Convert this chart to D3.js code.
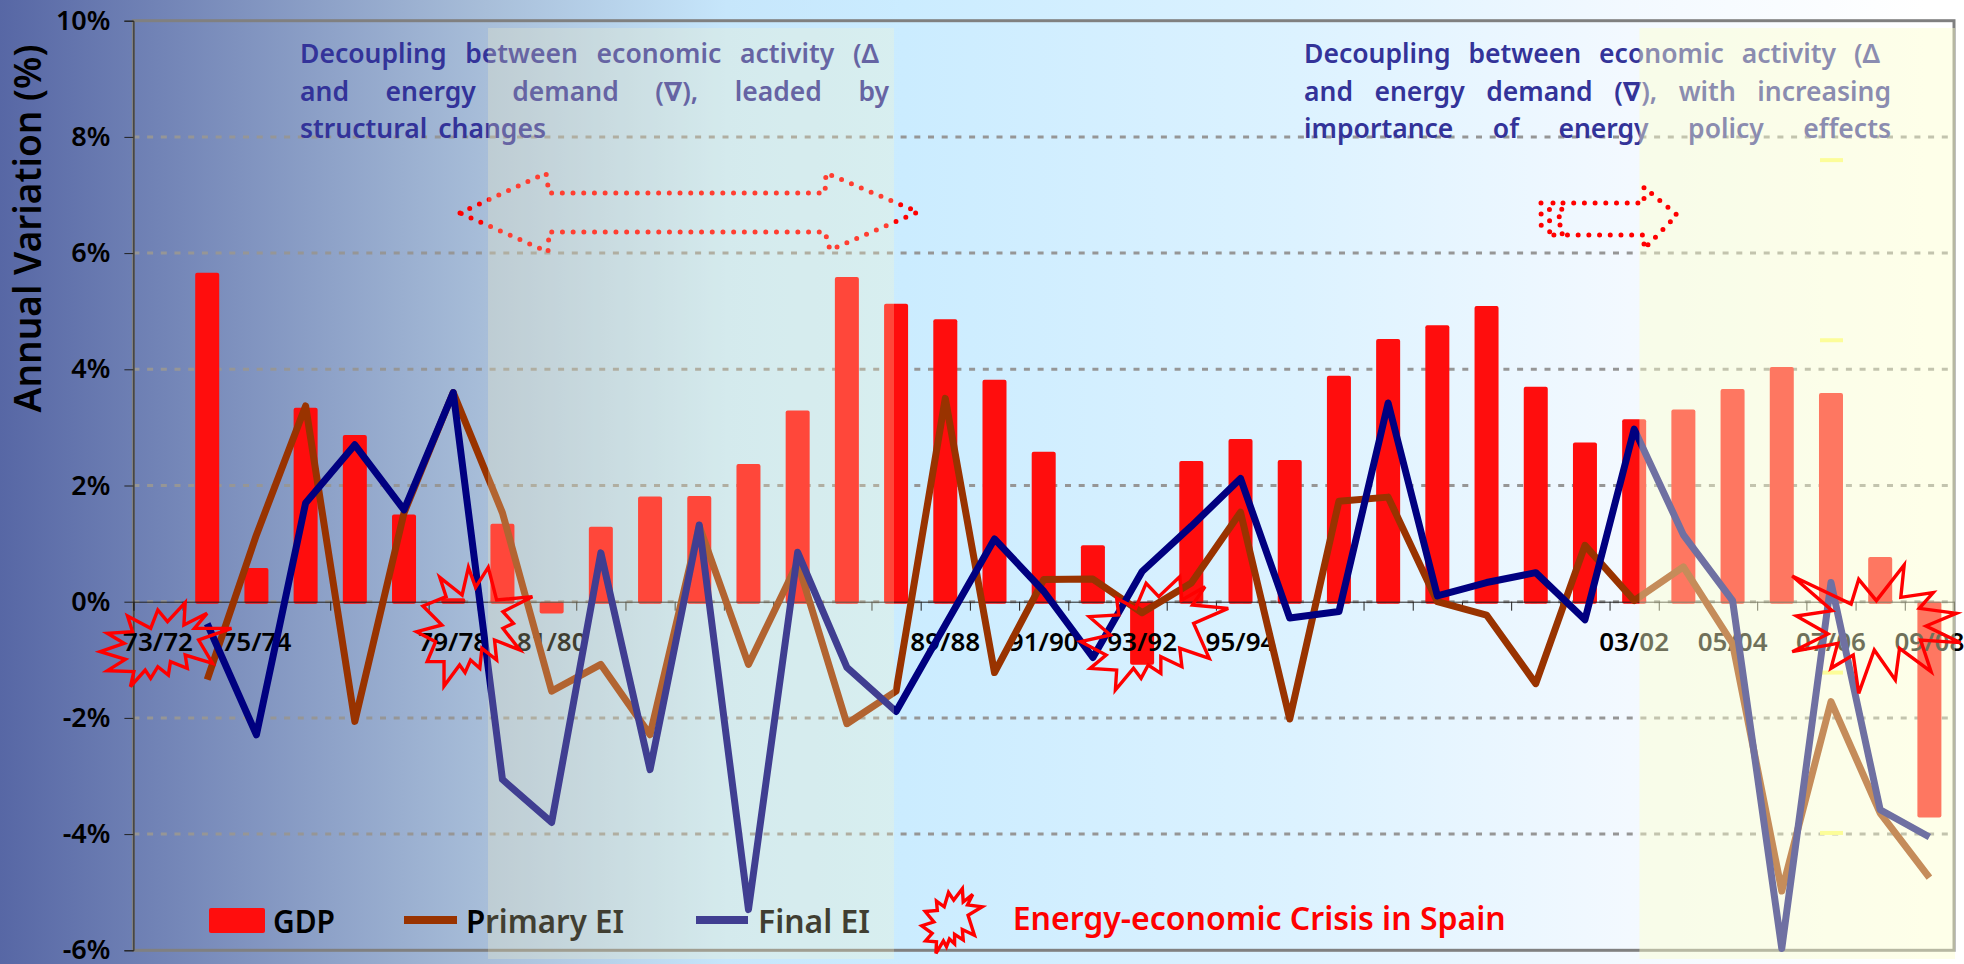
<!DOCTYPE html>
<html>
<head>
<meta charset="utf-8">
<script src="https://cdnjs.cloudflare.com/ajax/libs/d3/7.8.5/d3.min.js"></script>
<style>
  html, body { margin: 0; padding: 0; background: #fff; overflow: hidden; }
  text { font-family: "Noto Sans", "DejaVu Sans", sans-serif; }
</style>
</head>
<body>
<svg id="chart" width="1964" height="964"></svg>
<script>
const categories = ["73/72","74/73","75/74","76/75","77/76","78/77","79/78","80/79","81/80","82/81","83/82","84/83","85/84","86/85","87/86","88/87","89/88","90/89","91/90","92/91","93/92","94/93","95/94","96/95","97/96","98/97","99/98","00/99","01/00","02/01","03/02","04/03","05/04","06/05","07/06","08/07","09/08"];
const gdp = [null,5.66,0.58,3.34,2.87,1.5,0.06,1.34,-0.17,1.29,1.81,1.82,2.37,3.29,5.59,5.13,4.86,3.82,2.58,0.97,-1.05,2.42,2.8,2.44,3.89,4.52,4.76,5.09,3.7,2.74,3.14,3.31,3.66,4.04,3.59,0.77,-3.68];
const primaryEI = [null,-1.34,1.15,3.37,-2.06,1.53,3.6,1.53,-1.54,-1.08,-2.29,1.3,-1.08,0.67,-2.1,-1.54,3.5,-1.22,0.38,0.39,-0.19,0.32,1.54,-2.02,1.73,1.8,0.0,-0.23,-1.41,0.97,0.02,0.6,-0.72,-4.98,-1.72,-3.64,-4.75];
const finalEI = [null,-0.38,-2.29,1.7,2.7,1.58,3.6,-3.06,-3.8,0.84,-2.89,1.32,-5.3,0.85,-1.13,-1.89,-0.4,1.08,0.18,-0.96,0.52,1.3,2.12,-0.28,-0.17,3.42,0.1,0.33,0.5,-0.31,2.97,1.15,0.02,-5.97,0.33,-3.58,-4.05];
const yTicks = [-6,-4,-2,0,2,4,6,8,10];
const xLabels = ["73/72","75/74","79/78","81/80","89/88","91/90","93/92","95/94","03/02","05/04","07/06","09/08"];
const crisisYears = ["73/72","79/78","93/92","07/06"];
const yellowMarks = [7.6,4.5,-1.22,-3.98];

const margin = {left: 133.4, right: 1954, top: 20.7, bottom: 950.3};
const svg = d3.select("#chart");

// background
const defs = svg.append("defs");
const grad = defs.append("linearGradient").attr("id", "bg");
[[0,"#5767a5"],[0.248,"#a8bed9"],[0.37,"#c6e6fb"],[0.46,"#cbecff"],[0.66,"#dcf2ff"],[0.83,"#f3f9ff"],[0.98,"#ffffff"]]
  .forEach(s => grad.append("stop").attr("offset", s[0]).attr("stop-color", s[1]));
svg.append("rect").attr("width", 1964).attr("height", 964).attr("fill", "url(#bg)");

const x = d3.scaleBand().domain(categories).range([margin.left, margin.right]);
const xEdge = d3.scaleLinear().domain([0, categories.length]).range([margin.left, margin.right]);
const y = d3.scaleLinear().domain([-6, 10]).range([margin.bottom, margin.top]);

// gridlines and plot frame
svg.append("g").selectAll("line").data(yTicks.filter(d => d > -6 && d < 10)).enter().append("line")
  .attr("x1", margin.left).attr("x2", margin.right)
  .attr("y1", d => y(d)).attr("y2", d => y(d))
  .attr("stroke", "#969696").attr("stroke-width", 3).attr("stroke-dasharray", "6 7.7");
svg.append("rect")
  .attr("x", margin.left).attr("y", margin.top)
  .attr("width", margin.right - margin.left).attr("height", margin.bottom - margin.top)
  .attr("fill", "none").attr("stroke", "#808080").attr("stroke-width", 3);

// GDP bars
const barW = 24;
svg.append("g").selectAll("rect").data(categories.map((c, i) => ({c, v: gdp[i]})).filter(d => d.v !== null)).enter().append("rect")
  .attr("x", d => x(d.c) + x.bandwidth() / 2 - barW / 2)
  .attr("y", d => y(Math.max(d.v, 0)))
  .attr("width", barW)
  .attr("height", d => Math.abs(y(d.v) - y(0)) + 2)
  .attr("rx", 2)
  .attr("fill", "#ff0d0d");

// axes
const yAxis = svg.append("g").attr("transform", `translate(${margin.left},0)`)
  .call(d3.axisLeft(y).tickValues(yTicks).tickFormat(d => d + "%").tickSize(9).tickPadding(14));
yAxis.selectAll("text").attr("font-size", 27).attr("font-weight", 600).attr("fill", "#000");
yAxis.selectAll("line,path").attr("stroke", "#222");

const xAxis = svg.append("g").attr("transform", `translate(0,${y(0)})`)
  .call(d3.axisBottom(xEdge).tickValues(d3.range(categories.length + 1)).tickFormat("").tickSize(9));
xAxis.selectAll("line,path").attr("stroke", "#222");

const xLab = svg.append("g").attr("transform", `translate(0,${y(0)})`)
  .call(d3.axisBottom(x).tickValues(xLabels).tickSize(0).tickPadding(31));
xLab.select("path").remove();
xLab.selectAll("text").attr("font-size", 26).attr("font-weight", 600).attr("fill", "#000");

// yellow leftovers at 07/06
svg.append("g").selectAll("rect").data(yellowMarks).enter().append("rect")
  .attr("x", x("07/06") + x.bandwidth() / 2 - 11).attr("y", d => y(d) - 2)
  .attr("width", 23).attr("height", 4).attr("fill", "#fcfc70");

// lines
const lineGen = d3.line().defined(d => d.v !== null)
  .x(d => x(d.c) + x.bandwidth() / 2).y(d => y(d.v));
const seriesLines = [[primaryEI, "#993300"], [finalEI, "#000080"]];
seriesLines.forEach(s => {
  svg.append("path")
    .datum(categories.map((c, i) => ({c, v: s[0][i]})))
    .attr("d", lineGen)
    .attr("fill", "none").attr("stroke", s[1]).attr("stroke-width", 7).attr("stroke-linejoin", "round");
});

// y title
svg.append("text").attr("transform", "translate(41,228.5) rotate(-90)")
  .attr("text-anchor", "middle").attr("font-size", 37).attr("font-weight", 600).attr("fill", "#000")
  .text("Annual Variation (%)");

// annotation text, justified by stretching the spaces
function justified(txt, xStart, base, width) {
  const t = svg.append("text").attr("x", xStart).attr("y", base)
    .attr("font-size", 26.5).attr("font-weight", 600).attr("fill", "#333399").text(txt);
  const gaps = txt.split(" ").length - 1;
  const extra = (width - t.node().getComputedTextLength()) / gaps;
  t.style("word-spacing", extra + "px");
}
justified("Decoupling between economic activity (Δ", 300, 62.7, 579);
justified("and energy demand (∇), leaded by", 300, 100.7, 589);
justified("structural changes", 300, 138.3, 246);
justified("Decoupling between economic activity (Δ", 1304, 62.7, 576);
justified("and energy demand (∇), with increasing", 1304, 100.7, 587);
justified("importance of energy policy effects", 1304, 138.3, 587);

// legend
const legendY = 920;
svg.append("rect").attr("x", 209).attr("y", 908).attr("width", 56).attr("height", 25).attr("rx", 2).attr("fill", "#ff0d0d");
svg.append("line").attr("x1", 404).attr("x2", 457).attr("y1", legendY).attr("y2", legendY).attr("stroke", "#993300").attr("stroke-width", 8);
svg.append("line").attr("x1", 696).attr("x2", 748).attr("y1", legendY).attr("y2", legendY).attr("stroke", "#000080").attr("stroke-width", 8);
[["GDP", 273, 62], ["Primary EI", 466, 158], ["Final EI", 758, 112]].forEach(d => {
  svg.append("text").attr("x", d[1]).attr("y", 932.5)
    .attr("font-size", 32).attr("font-weight", 600).attr("fill", "#000")
    .attr("textLength", d[2]).attr("lengthAdjust", "spacingAndGlyphs").text(d[0]);
});

// dotted arrow 1, goes under the panels
function dotted(pts) {
  svg.append("path")
    .attr("d", d3.line()(pts))
    .attr("fill", "none").attr("stroke", "#ff0000").attr("stroke-width", 5)
    .attr("stroke-linecap", "round").attr("stroke-dasharray", "0 10.7");
}
dotted([[460,213],[546,173],[549,193],[825,193],[826,173],[918,212],[830,250],[825,232],[549,232],[548,252],[460,213]]);

// shaded period panels
const panels = [
  {x0: 488, x1: 894, fill: "rgb(255,248,195)", opacity: 0.25},
  {x0: 1639.4, x1: 1955, fill: "rgb(252,255,205)", opacity: 0.44}
];
svg.append("g").selectAll("rect").data(panels).enter().append("rect")
  .attr("x", d => d.x0).attr("y", 28)
  .attr("width", d => d.x1 - d.x0).attr("height", 931)
  .attr("fill", d => d.fill).attr("fill-opacity", d => d.opacity);

// arrow 2 sits on top of the panels
dotted([[1563,203],[1644,203],[1644,187],[1677,215],[1644,249],[1644,235],[1563,235]]);
dotted([[1541,203],[1550,210],[1541,214],[1550,221],[1541,225],[1550,232],[1541,235]]);
dotted([[1553,203],[1563,210],[1558,215],[1563,222],[1558,227],[1563,235],[1553,235]]);

// crisis stars, outlines traced in crop units
const starOutlines = {
  "73/72": [[303,408],[358,445],[375,390],[398,425],[440,368],[437,435],[492,400],[462,445],[550,445],[472,480],[505,550],[440,525],[445,565],[405,545],[400,585],[375,560],[358,595],[345,570],[310,620],[318,575],[255,572],[298,538],[238,515],[295,490],[255,460],[315,455]],
  "79/78": [[1160,262],[1130,322],[1113,262],[1098,345],[1045,292],[1060,350],[1005,378],[1050,435],[990,455],[1035,485],[1015,545],[1055,545],[1055,618],[1092,555],[1105,578],[1118,540],[1140,565],[1145,505],[1180,540],[1175,480],[1235,510],[1195,445],[1220,430],[1195,395],[1265,350],[1180,360]],
  "93/92": [[1020,410],[1090,405],[1085,355],[1130,385],[1155,310],[1185,350],[1235,290],[1240,360],[1295,320],[1265,375],[1350,385],[1268,430],[1305,535],[1235,505],[1240,560],[1190,530],[1190,580],[1160,555],[1143,595],[1125,565],[1082,630],[1085,570],[1022,565],[1060,525],[1000,485],[1070,465]],
  "07/06": [[1160,288],[1300,372],[1318,298],[1360,362],[1426,255],[1418,352],[1495,338],[1462,385],[1550,400],[1478,438],[1560,488],[1465,480],[1490,575],[1415,505],[1405,600],[1355,510],[1318,640],[1305,525],[1252,565],[1268,490],[1160,515],[1245,462],[1170,408],[1255,392]]
};
const cropOrigin = {"73/72": 0, "79/78": 0, "93/92": 660, "07/06": 1304};
const zx = 2.376, zy = 3;
function drawStar(pts) {
  svg.append("path").attr("d", d3.line()(pts) + "Z")
    .attr("fill", "none").attr("stroke", "#ff0000").attr("stroke-width", 3.4).attr("stroke-linejoin", "miter");
}
crisisYears.forEach(k => {
  drawStar(starOutlines[k].map(p => [cropOrigin[k] + p[0] / zx, 480 + p[1] / zy]));
});
// legend star: same shape as 93/92, smaller
drawStar(starOutlines["93/92"].map(p => [952 + (p[0] - 1175) / zx * 0.41, 921 + (p[1] - 460) / zy * 0.57]));

svg.append("text").attr("x", 1012.7).attr("y", 930)
  .attr("font-size", 32).attr("font-weight", 600).attr("fill", "#ff0000")
  .attr("textLength", 493).attr("lengthAdjust", "spacingAndGlyphs")
  .text("Energy-economic Crisis in Spain");
</script>
</body>
</html>
